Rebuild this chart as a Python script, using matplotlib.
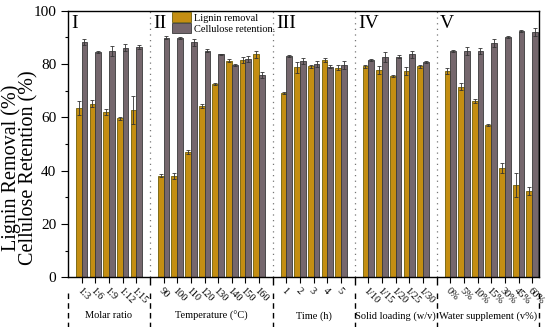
import matplotlib

matplotlib.use("Agg", force=True)
import matplotlib.pyplot as plt
import numpy as np
from matplotlib.ticker import FixedLocator
from matplotlib.transforms import blended_transform_factory

plt.rcParams["font.family"] = ["Liberation Serif", "DejaVu Serif"]

# condition groups
group_names = ["Molar ratio", "Temperature (\u00b0C)", "Time (h)",
               "Solid loading (w/v)", "Water supplement (v%)"]
group_roman = ["I", "II", "III", "IV", "V"]
group_ticks = [
    ["1:3", "1:6", "1:9", "1:12", "1:15"],
    ["90", "100", "110", "120", "130", "140", "150", "160"],
    ["1", "2", "3", "4", "5"],
    ["1/10", "1/15", "1/20", "1/25", "1/30"],
    ["0%", "5%", "10%", "15%", "30%", "45%", "60%"],
]

lignin = [
    [63.5, 65.2, 62.1, 59.6, 62.8],
    [38.1, 38.0, 47.0, 64.3, 72.5, 81.2, 81.6, 83.6],
    [69.2, 78.8, 79.2, 81.5, 78.6],
    [79.2, 77.7, 75.5, 77.5, 79.2],
    [77.3, 71.5, 66.2, 57.1, 40.9, 34.6, 32.2],
]
lignin_err = [
    [2.5, 1.2, 1.2, 0.6, 5.3],
    [0.6, 1.0, 0.6, 0.8, 0.4, 0.6, 1.2, 1.3],
    [0.3, 2.0, 0.6, 0.6, 1.0],
    [0.5, 1.5, 0.3, 1.5, 0.6],
    [1.2, 1.3, 0.8, 0.3, 1.8, 4.5, 1.5],
]
cellulose = [
    [88.3, 84.6, 85.0, 86.2, 86.3],
    [89.9, 89.9, 88.2, 85.0, 83.6, 79.6, 81.9, 75.9],
    [83.1, 81.2, 80.0, 79.0, 79.6],
    [81.6, 82.6, 82.7, 83.6, 80.8],
    [84.9, 85.0, 85.0, 88.0, 90.2, 92.4, 92.2],
]
cellulose_err = [
    [1.2, 0.4, 1.8, 1.2, 0.8],
    [0.5, 0.4, 1.3, 0.6, 0.3, 0.5, 1.2, 1.0],
    [0.3, 1.0, 1.0, 0.5, 1.5],
    [0.4, 2.0, 0.6, 1.5, 0.5],
    [0.5, 1.5, 1.2, 1.5, 0.4, 0.3, 1.5],
]

# x positions: one slot per condition, one empty slot between groups
positions, separators, labels = [], [], []
cursor = 0
for ticks in group_ticks:
    start = cursor + 1
    positions.append(np.arange(start, start + len(ticks)))
    labels += ticks
    cursor = start + len(ticks)
    separators.append(cursor)
x_right = separators[-1] - 0.5
inner_seps = separators[:-1]

fig = plt.figure(figsize=(5.5, 3.27), dpi=100)
ax = fig.add_axes([0.1236, 0.152, 0.8564, 0.815])

w = 0.42
err_kw = dict(ecolor="#333333", elinewidth=0.6, capsize=1.2, capthick=0.6)
for i in range(len(group_ticks)):
    x = positions[i]
    ax.bar(x - w / 2, lignin[i], w, yerr=lignin_err[i], color="#C48E12",
           edgecolor="#6F5E08", linewidth=0.6, error_kw=err_kw,
           label="Lignin removal" if i == 0 else None)
    ax.bar(x + w / 2, cellulose[i], w, yerr=cellulose_err[i], color="#75676D",
           edgecolor="#3A3A3A", linewidth=0.6, error_kw=err_kw,
           label="Cellulose retention." if i == 0 else None)

for s in inner_seps:
    ax.axvline(s, color="#777777", linestyle=(0, (1, 3.5)), linewidth=0.9)

for s, roman in zip([0] + inner_seps, group_roman):
    ax.text(s + 0.25, 98.5, roman, ha="left", va="top", fontsize=14)

ax.set_xlim(0, x_right)
ax.set_ylim(0, 100)
all_pos = np.concatenate(positions)
ax.set_xticks(all_pos)
ax.set_xticklabels(labels, rotation=-45, ha="left", va="top",
                   rotation_mode="anchor", fontsize=7.5)
ax.xaxis.set_minor_locator(FixedLocator(inner_seps))
ax.tick_params(axis="x", which="major", direction="out", length=4, width=0.8, pad=2)
ax.tick_params(axis="x", which="minor", direction="out", length=6, width=1.0)
ax.set_yticks(np.arange(0, 101, 20))
ax.yaxis.set_minor_locator(FixedLocator(np.arange(10, 100, 20)))
ax.tick_params(axis="y", which="major", direction="out", length=5, width=0.8,
               labelsize=11)
ax.tick_params(axis="y", which="minor", direction="out", length=2.5, width=0.8)
for sp in ax.spines.values():
    sp.set_linewidth(1.0)

fig.text(20 / 550, 1 - 168 / 327, "Lignin Removal (%)\nCellulose Retention (%)",
         rotation=90, ha="center", va="center", fontsize=14.5,
         linespacing=0.85)

# dashed group dividers and group names below the axis
trans = blended_transform_factory(ax.transData, ax.transAxes)
for s in [0] + separators[:-1] + [x_right]:
    ax.plot([s, s], [-0.06, -0.19], transform=trans, color="black",
            linestyle=(0, (4, 3)), linewidth=1.0, clip_on=False)
bounds = [0] + separators[:-1] + [x_right]
for i, name in enumerate(group_names):
    ax.text((bounds[i] + bounds[i + 1]) / 2, -0.145, name, transform=trans,
            ha="center", va="center", fontsize=7.5)

ax.legend(loc="upper left", bbox_to_anchor=(0.21, 1.015), frameon=False,
          fontsize=7.5, handlelength=1.8, handleheight=1.1, handletextpad=0.3,
          labelspacing=0.05, borderaxespad=0.1)

fig.savefig("out.png")
